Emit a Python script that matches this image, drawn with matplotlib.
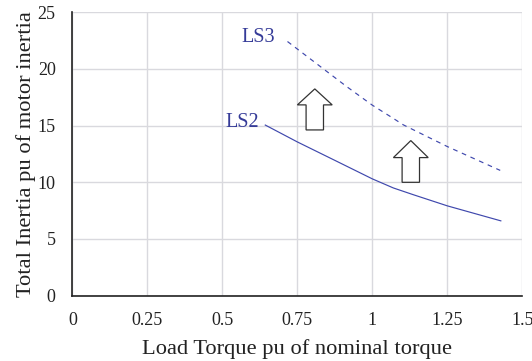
import matplotlib
matplotlib.use('Agg')
from matplotlib import pyplot as plt
from matplotlib.patches import Polygon
import numpy as np

# data
torque_ls2 = [0.643, 0.75, 0.876, 1.0, 1.07, 1.137, 1.25, 1.428]
inertia_ls2 = [15.05, 13.56, 11.92, 10.3, 9.5, 8.9, 7.92, 6.6]
torque_ls3 = [0.717, 0.833, 0.915, 1.0, 1.072, 1.103, 1.25, 1.426]
inertia_ls3 = [22.42, 20.08, 18.43, 16.8, 15.6, 15.07, 13.15, 11.05]

xticks = [0, 0.25, 0.5, 0.75, 1, 1.25, 1.5]
xticklabels = ['0', '0.25', '0.5', '0.75', '1', '1.25', '1.5']
yticks = [0, 5, 10, 15, 20, 25]

# block arrows: (x centre, bottom, head base, tip)
arrows = [(0.808, 14.62, 16.83, 18.24), (1.128, 10.0, 12.18, 13.68)]
shaft_half = 0.029
head_half = 0.058

plt.rcParams['font.family'] = ['Liberation Serif', 'DejaVu Serif']
blue = '#3f48ad'
txt_blue = '#353b98'

fig = plt.figure(figsize=(5.32, 3.61), dpi=100)
ax = fig.add_axes([0.136, 0.181, 0.846, 0.785])

ax.plot(torque_ls2, inertia_ls2, color=blue, linewidth=0.85)
ax.plot(torque_ls3, inertia_ls3, color=blue, linewidth=0.85, linestyle=(0, (4, 4)))

for xc, yb, yh, yt in arrows:
    pts = [(xc - shaft_half, yb), (xc + shaft_half, yb), (xc + shaft_half, yh),
           (xc + head_half, yh), (xc, yt), (xc - head_half, yh), (xc - shaft_half, yh)]
    ax.add_patch(Polygon(pts, closed=True, facecolor='white', edgecolor='#333333',
                         linewidth=0.9, zorder=3))

ax.text(0.674, 22.75, 'LS3', color=txt_blue, fontsize=14.5, ha='right', va='center')
ax.text(0.623, 15.25, 'LS2', color=txt_blue, fontsize=14.5, ha='right', va='center')

ax.set_xlim(0, 1.5)
ax.set_ylim(0, 25)
ax.set_xticks(xticks)
ax.set_xticklabels(xticklabels)
ax.set_yticks(yticks)
ax.grid(True, color='#d9d9de', linewidth=1)
ax.set_axisbelow(True)
ax.tick_params(length=0, labelsize=13, colors='#222222')
ax.tick_params(axis='x', pad=12)
ax.tick_params(axis='y', pad=12)
for s in ['top', 'right']:
    ax.spines[s].set_visible(False)
for s in ['left', 'bottom']:
    ax.spines[s].set_color('#222222')
    ax.spines[s].set_linewidth(1.2)

ax.set_xlabel('Load Torque pu of nominal torque', fontsize=16.2, color='#222222', labelpad=7)
ax.set_ylabel('Total Inertia pu of motor inertia', fontsize=16.2, color='#222222', labelpad=1)

fig.savefig('out.png', dpi=100)
